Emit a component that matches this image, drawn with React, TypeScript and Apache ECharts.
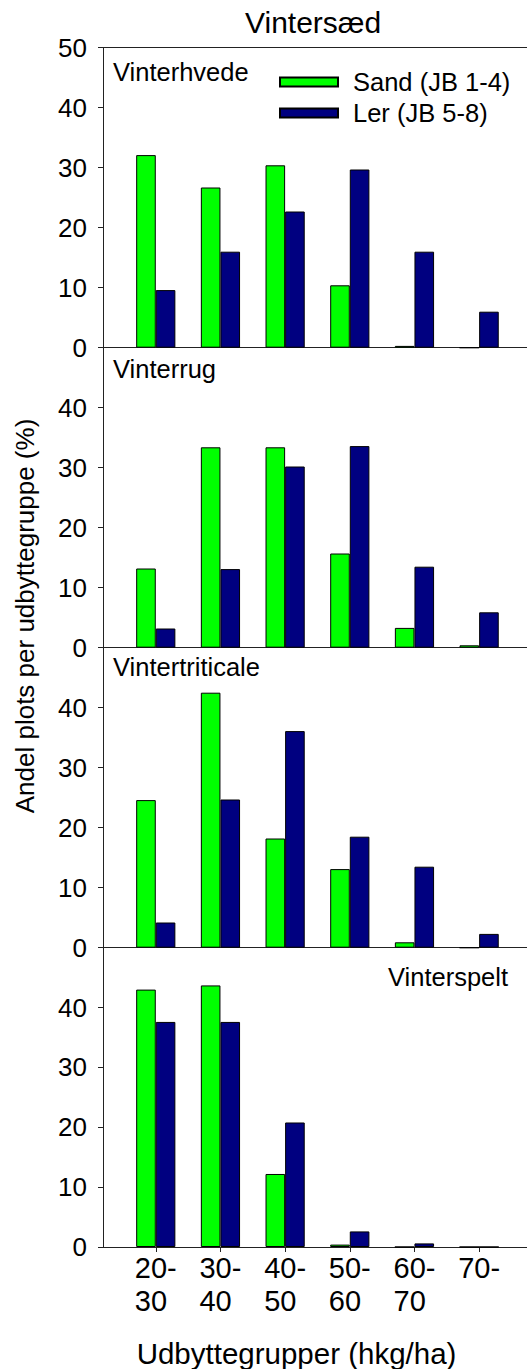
import React, { useEffect, useRef } from "react";
import * as echarts from "echarts";

const FONT = "'Liberation Sans', Arial, sans-serif";

// Yield groups (hkg/ha) – tick labels, and the group mid values used on the x value axis
const categories = ["20-\n30", "30-\n40", "40-\n50", "50-\n60", "60-\n70", "70-"];
const groupMids = [25, 35, 45, 55, 65, 75];

const seriesNames = ["Sand (JB 1-4)", "Ler (JB 5-8)"];
const panelNames = ["Vinterhvede", "Vinterrug", "Vintertriticale", "Vinterspelt"];

// Andel plots per udbyttegruppe (%)
const hvedeSand = [32.1, 26.7, 30.4, 10.4, 0.3, 0];
const hvedeLer = [9.6, 16.0, 22.7, 29.7, 16.0, 6.0];
const rugSand = [13.2, 33.4, 33.4, 15.7, 3.3, 0.4];
const rugLer = [3.2, 13.1, 30.2, 33.6, 13.5, 5.9];
const triticaleSand = [24.6, 42.5, 18.2, 13.1, 0.9, 0];
const triticaleLer = [4.2, 24.7, 36.1, 18.5, 13.5, 2.3];
const speltSand = [43.0, 43.7, 12.2, 0.4, 0, 0];
const speltLer = [37.6, 37.6, 20.8, 2.6, 0.6, 0];

const yTicks = [0, 10, 20, 30, 40, 50];

const panelData = [
  [hvedeSand, hvedeLer],
  [rugSand, rugLer],
  [triticaleSand, triticaleLer],
  [speltSand, speltLer],
];

const colors = ["#00FF00", "#000080"];

export default function App() {
  const ref = useRef<HTMLDivElement>(null);

  useEffect(() => {
    if (!ref.current) return;
    const chart = echarts.init(ref.current, undefined, { renderer: "svg" });

    const PANEL_TOP = 47.7;
    const PANEL_H = 300;
    const LEFT = 103;
    const XMIN = 16.84;
    const XMAX = 82.4;

    const grids: any[] = [];
    const xAxes: any[] = [];
    const yAxes: any[] = [];
    const series: any[] = [];

    panelData.forEach((pair, i) => {
      const isLast = i === panelData.length - 1;
      grids.push({ left: LEFT, right: 0, top: PANEL_TOP + PANEL_H * i, height: PANEL_H });
      xAxes.push({
        type: "value",
        gridIndex: i,
        min: XMIN,
        max: XMAX,
        splitLine: { show: false },
        axisLine: { show: true, onZero: false, lineStyle: { color: "#222", width: 1 } },
        axisTick: {
          show: isLast,
          customValues: groupMids,
          length: 5,
          lineStyle: { color: "#222" },
        },
        axisLabel: {
          show: isLast,
          customValues: groupMids,
          margin: 4,
          formatter: (v: number) => {
            const idx = groupMids.indexOf(v);
            if (idx < 0) return "";
            return categories[idx]
              .split("\n")
              .map((s) => `{a|${s}}`)
              .join("\n");
          },
          rich: {
            a: { fontSize: 29, lineHeight: 33, align: "left", color: "#000", fontFamily: FONT },
          },
        },
        name: isLast ? "Udbyttegrupper (hkg/ha)" : "",
        nameLocation: "middle",
        nameGap: 91,
        nameMoveOverlap: false,
        nameTextStyle: {
          fontSize: 29.5,
          color: "#000",
          fontFamily: FONT,
          padding: [0, 37, 0, 0],
          verticalAlign: "top",
        },
      });
      yAxes.push({
        type: "value",
        gridIndex: i,
        min: yTicks[0],
        max: yTicks[yTicks.length - 1],
        interval: 10,
        splitLine: { show: false },
        axisLine: { show: true, lineStyle: { color: "#222", width: 1 } },
        axisTick: { show: true, length: 5, lineStyle: { color: "#222" } },
        axisLabel: {
          fontSize: 26,
          color: "#000",
          margin: 16,
          fontFamily: FONT,
          showMaxLabel: i === 0,
        },
      });
      pair.forEach((vals, s) => {
        series.push({
          type: "bar",
          name: seriesNames[s],
          xAxisIndex: i,
          yAxisIndex: i,
          barWidth: 19.6,
          barGap: "0%",
          data: groupMids.map((m, k) => [m, vals[k]]),
          itemStyle: { color: colors[s], borderColor: "#000", borderWidth: 1 },
        });
      });
    });

    // top frame line of the first panel
    xAxes.push({
      type: "value",
      gridIndex: 0,
      position: "top",
      min: XMIN,
      max: XMAX,
      splitLine: { show: false },
      axisLine: { show: true, onZero: false, lineStyle: { color: "#222", width: 1 } },
      axisTick: { show: false },
      axisLabel: { show: false },
    });

    const labelPos = [
      { left: 113, top: 59 },
      { left: 113, top: 356 },
      { left: 113, top: 654 },
      { right: 19, top: 964 },
    ];

    const titles: any[] = [
      {
        text: "Vintersæd",
        left: 245,
        top: 7,
        padding: 0,
        textStyle: { fontSize: 30, fontWeight: "normal", color: "#000", fontFamily: FONT },
      },
      ...panelNames.map((n, i) => ({
        text: n,
        ...labelPos[i],
        padding: 0,
        textStyle: { fontSize: 25.5, fontWeight: "normal", color: "#000", fontFamily: FONT },
      })),
    ];

    chart.setOption({
      animation: false,
      textStyle: { fontFamily: FONT },
      title: titles,
      legend: {
        data: seriesNames,
        orient: "vertical",
        left: 279,
        top: 69,
        padding: 0,
        itemWidth: 58,
        itemHeight: 9,
        itemGap: 5,
        icon: "rect",
        textStyle: { fontSize: 25.5, color: "#000", fontFamily: FONT, padding: [0, 0, 0, 10] },
      },
      grid: grids,
      xAxis: xAxes,
      yAxis: yAxes,
      series,
      graphic: [
        {
          type: "text",
          x: 25,
          y: 616,
          rotation: Math.PI / 2,
          style: {
            text: "Andel plots per udbyttegruppe (%)",
            fontSize: 26,
            fontFamily: FONT,
            fill: "#000",
            textAlign: "center",
            textVerticalAlign: "middle",
          },
        },
      ],
    });

    return () => chart.dispose();
  }, []);

  return (
    <div
      ref={ref}
      style={{ position: "absolute", left: 0, top: 0, width: 527, height: 1369 }}
    />
  );
}
